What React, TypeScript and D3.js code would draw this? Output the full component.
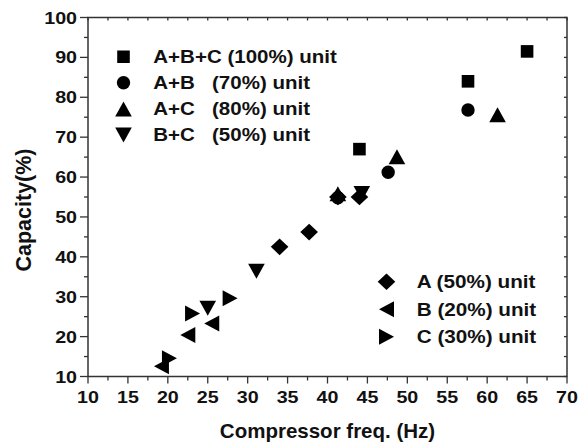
import React from "react";
import * as d3 from "d3";

// values
const freqABC = [44.0, 57.6, 65.0];
const capABC = [67.0, 84.0, 91.5];
const freqAB = [41.3, 47.6, 57.6];
const capAB = [54.8, 61.2, 76.8];
const freqAC = [41.3, 48.7, 61.3];
const capAC = [55.8, 65.1, 75.6];
const freqBC = [25.0, 31.1, 44.3];
const capBC = [27.1, 36.4, 55.9];
const freqA = [34.0, 37.7, 41.3, 44.0];
const capA = [42.5, 46.2, 55.0, 55.0];
const freqB = [19.2, 22.5, 25.5];
const capB = [12.6, 20.4, 23.3];
const freqC = [20.2, 23.1, 27.8];
const capC = [14.6, 25.8, 29.6];

const xTicks = [10, 15, 20, 25, 30, 35, 40, 45, 50, 55, 60, 65, 70];
const yTicks = [10, 20, 30, 40, 50, 60, 70, 80, 90, 100];

const topLegend = [
  { label: "A+B+C (100%) unit", shape: "square", x: freqABC, y: capABC },
  { label: "A+B   (70%) unit", shape: "circle", x: freqAB, y: capAB },
  { label: "A+C   (80%) unit", shape: "up", x: freqAC, y: capAC },
  { label: "B+C   (50%) unit", shape: "down", x: freqBC, y: capBC },
];
const bottomLegend = [
  { label: "A (50%) unit", shape: "diamond", x: freqA, y: capA },
  { label: "B (20%) unit", shape: "left", x: freqB, y: capB },
  { label: "C (30%) unit", shape: "right", x: freqC, y: capC },
];

const W = 585;
const H = 447;
const margin = { left: 88, right: 18, top: 17.5, bottom: 70.5 };
const font = "Arial, 'Liberation Sans', Helvetica, sans-serif";
const axisColor = "#333";

const marker = (shape: string, cx: number, cy: number) => {
  const p = d3.path();
  if (shape === "square") {
    p.rect(cx - 6.3, cy - 6.3, 12.6, 12.6);
  } else if (shape === "circle") {
    p.arc(cx, cy, 6.7, 0, 2 * Math.PI);
  } else if (shape === "up") {
    p.moveTo(cx, cy - 7.5);
    p.lineTo(cx + 8.3, cy + 7.5);
    p.lineTo(cx - 8.3, cy + 7.5);
  } else if (shape === "down") {
    p.moveTo(cx, cy + 7.5);
    p.lineTo(cx + 8.3, cy - 7.5);
    p.lineTo(cx - 8.3, cy - 7.5);
  } else if (shape === "diamond") {
    p.moveTo(cx, cy - 8.3);
    p.lineTo(cx + 8.8, cy);
    p.lineTo(cx, cy + 8.3);
    p.lineTo(cx - 8.8, cy);
  } else if (shape === "left") {
    p.moveTo(cx - 7.5, cy);
    p.lineTo(cx + 7.5, cy - 8);
    p.lineTo(cx + 7.5, cy + 8);
  } else {
    p.moveTo(cx + 7.5, cy);
    p.lineTo(cx - 7.5, cy - 8);
    p.lineTo(cx - 7.5, cy + 8);
  }
  p.closePath();
  return p.toString();
};

const App = () => {
  const x = d3
    .scaleLinear()
    .domain([10, 70])
    .range([margin.left, W - margin.right]);
  const y = d3
    .scaleLinear()
    .domain([10, 100])
    .range([H - margin.bottom, margin.top]);

  const x0 = x.range()[0];
  const x1 = x.range()[1];
  const y0 = y.range()[0];
  const y1 = y.range()[1];

  const xMinor = xTicks.slice(0, -1).map((t) => t + 2.5);
  const yMinor = yTicks.slice(0, -1).map((t) => t + 5);

  return (
    <svg
      width={W}
      height={H}
      style={{ position: "absolute", left: 0, top: 0, background: "#fff" }}
      fontFamily={font}
      fontWeight="bold"
    >
      {/* Data points */}
      {[...topLegend, ...bottomLegend].map((s) =>
        s.x.map((v, i) => (
          <path key={s.label + i} d={marker(s.shape, x(v), y(s.y[i]))} fill="#000" />
        ))
      )}

      {/* Frame */}
      <rect
        x={x0}
        y={y1}
        width={x1 - x0}
        height={y0 - y1}
        fill="none"
        stroke={axisColor}
        strokeWidth={1.5}
      />

      {/* Bottom / top ticks */}
      {xTicks.map((t) => (
        <g key={"xt" + t}>
          <line x1={x(t)} x2={x(t)} y1={y0} y2={y0 + 7} stroke={axisColor} strokeWidth={1.3} />
          <line x1={x(t)} x2={x(t)} y1={y1} y2={y1 + 3} stroke={axisColor} strokeWidth={1.3} />
          <text
            transform={`translate(${x(t)},${y0 + 26}) scale(1.17,1)`}
            textAnchor="middle"
            fontSize={16.8}
            fill="#111"
          >
            {t}
          </text>
        </g>
      ))}
      {xMinor.map((t) => (
        <g key={"xm" + t}>
          <line x1={x(t)} x2={x(t)} y1={y0} y2={y0 + 4} stroke={axisColor} strokeWidth={1.3} />
          <line x1={x(t)} x2={x(t)} y1={y1} y2={y1 + 3} stroke={axisColor} strokeWidth={1.3} />
        </g>
      ))}

      {/* Left / right ticks */}
      {yTicks.map((t) => (
        <g key={"yt" + t}>
          <line x1={x0 - 8} x2={x0} y1={y(t)} y2={y(t)} stroke={axisColor} strokeWidth={1.3} />
          <line x1={x1 - 3} x2={x1} y1={y(t)} y2={y(t)} stroke={axisColor} strokeWidth={1.3} />
          <text
            transform={`translate(${x0 - 11},${y(t) + 6}) scale(1.17,1)`}
            textAnchor="end"
            fontSize={16.8}
            fill="#111"
          >
            {t}
          </text>
        </g>
      ))}
      {yMinor.map((t) => (
        <g key={"ym" + t}>
          <line x1={x0 - 4} x2={x0} y1={y(t)} y2={y(t)} stroke={axisColor} strokeWidth={1.3} />
          <line x1={x1 - 3} x2={x1} y1={y(t)} y2={y(t)} stroke={axisColor} strokeWidth={1.3} />
        </g>
      ))}

      {/* Axis titles */}
      <text
        x={(x0 + x1) / 2}
        y={438}
        textAnchor="middle"
        fontSize={20.5}
        fill="#111"
      >
        Compressor freq. (Hz)
      </text>
      <text
        transform={`translate(31,210) rotate(-90)`}
        textAnchor="middle"
        fontSize={21.5}
        fill="#111"
      >
        Capacity(%)
      </text>

      {/* Legends */}
      {topLegend.map((s, i) => (
        <g key={"lt" + i}>
          <path d={marker(s.shape, 123.5, 56.7 + i * 26.1)} fill="#000" />
          <text
            transform={`translate(153.3,${63 + i * 26.1}) scale(1.14,1)`}
            fontSize={18}
            fill="#111"
            xmlSpace="preserve"
            style={{ whiteSpace: "pre" }}
          >
            {s.label}
          </text>
        </g>
      ))}
      {bottomLegend.map((s, i) => (
        <g key={"lb" + i}>
          <path d={marker(s.shape, 386.5, 281.7 + i * 27.5)} fill="#000" />
          <text
            transform={`translate(416.7,${288.3 + i * 27.5}) scale(1.15,1)`}
            fontSize={18}
            fill="#111"
          >
            {s.label}
          </text>
        </g>
      ))}
    </svg>
  );
};

export default App;
